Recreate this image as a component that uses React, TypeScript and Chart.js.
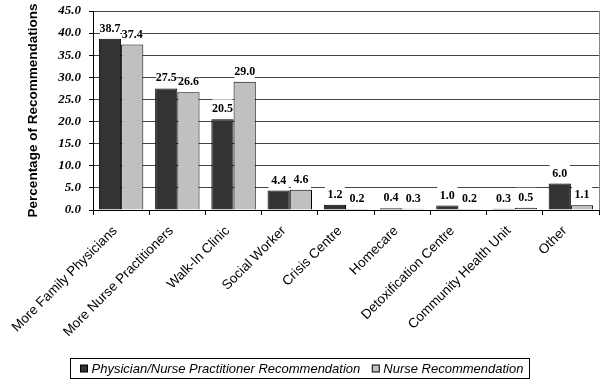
import React, { useEffect, useRef } from "react";
import { Chart, registerables } from "chart.js";

Chart.register(...registerables);

const categories = [
  "More Family Physicians",
  "More Nurse Practitioners",
  "Walk-In Clinic",
  "Social Worker",
  "Crisis Centre",
  "Homecare",
  "Detoxification Centre",
  "Community Health Unit",
  "Other",
];
const physicianValues = [38.7, 27.5, 20.5, 4.4, 1.2, 0.4, 1.0, 0.3, 6.0];
const nurseValues = [37.4, 26.6, 29.0, 4.6, 0.2, 0.3, 0.2, 0.5, 1.1];
const seriesLabels = ["Physician/Nurse Practitioner Recommendation", "Nurse Recommendation"];
const seriesColors = ["#333333", "#c0c0c0"];
const yAxisTitle = "Percentage of Recommendations";
const yMin = 0;
const yMax = 45;
const yStep = 5;

const valueLabelPlugin = {
  id: "valueLabels",
  afterDatasetsDraw(chart: any) {
    const ctx = chart.ctx;
    ctx.save();
    chart.data.datasets.forEach((ds: any, di: number) => {
      const meta = chart.getDatasetMeta(di);
      meta.data.forEach((el: any, i: number) => {
        const w = el.width;
        const top = Math.min(el.y, el.base);
        ctx.fillStyle = "#ffffff";
        ctx.fillRect(el.x - w / 2 + 1, top - 20, w - 2, 19);
        ctx.fillStyle = "#000000";
        ctx.font = 'bold 12px "Liberation Serif"';
        ctx.textAlign = "center";
        ctx.textBaseline = "middle";
        ctx.fillText(Number(ds.data[i]).toFixed(1), el.x, top - 10);
      });
    });
    ctx.restore();
  },
};

const frameLegendPlugin = {
  id: "frameLegend",
  afterDraw(chart: any) {
    const ctx = chart.ctx;
    const area = chart.chartArea;
    ctx.save();
    // right border of plot area
    ctx.strokeStyle = "#888888";
    ctx.lineWidth = 1;
    ctx.beginPath();
    ctx.moveTo(Math.round(area.right) + 0.5, area.top);
    ctx.lineTo(Math.round(area.right) + 0.5, area.bottom);
    ctx.stroke();

    // legend box
    ctx.font = 'italic 13px "Liberation Sans"';
    const labels = chart.data.datasets.map((d: any) => d.label);
    const widths = labels.map((t: string) => ctx.measureText(t).width);
    const sq = 7;
    const gap = 4;
    const itemGap = 12;
    const padL = 10;
    const padR = 6;
    const content = widths.reduce((a: number, w: number) => a + sq + gap + w, 0) + itemGap * (labels.length - 1);
    const boxW = Math.round(padL + content + padR);
    const boxH = 20;
    const cx = 299;
    const boxX = Math.round(cx - boxW / 2) + 0.5;
    const boxY = 358.5;
    ctx.fillStyle = "#ffffff";
    ctx.fillRect(boxX, boxY, boxW, boxH);
    ctx.strokeStyle = "#000000";
    ctx.strokeRect(boxX, boxY, boxW, boxH);
    let x = boxX + padL;
    const midY = boxY + boxH / 2;
    labels.forEach((t: string, i: number) => {
      const ds = chart.data.datasets[i];
      ctx.fillStyle = ds.backgroundColor;
      ctx.fillRect(x, midY - sq / 2, sq, sq);
      ctx.strokeStyle = "#000000";
      ctx.strokeRect(x, midY - sq / 2, sq, sq);
      x += sq + gap;
      ctx.fillStyle = "#000000";
      ctx.textAlign = "left";
      ctx.textBaseline = "middle";
      ctx.fillText(t, x, midY + 1);
      x += widths[i] + itemGap;
    });
    ctx.restore();
  },
};

export default function App() {
  const canvasRef = useRef<HTMLCanvasElement | null>(null);

  useEffect(() => {
    if (!canvasRef.current) return;
    const chart = new Chart(canvasRef.current, {
      type: "bar",
      data: {
        labels: categories,
        datasets: [
          {
            label: seriesLabels[0],
            data: physicianValues,
            backgroundColor: seriesColors[0],
            borderColor: "#000000",
            borderWidth: 1,
          },
          {
            label: seriesLabels[1],
            data: nurseValues,
            backgroundColor: seriesColors[1],
            borderColor: "#000000",
            borderWidth: 1,
          },
        ],
      },
      options: {
        responsive: false,
        maintainAspectRatio: false,
        animation: false,
        datasets: { bar: { categoryPercentage: 0.79, barPercentage: 1.0 } },
        layout: { padding: { left: 0, top: 11, right: 5, bottom: 0 } },
        plugins: {
          legend: { display: false },
          tooltip: { enabled: false },
        },
        scales: {
          x: {
            offset: true,
            grid: {
              display: true,
              offset: true,
              drawOnChartArea: false,
              drawTicks: true,
              tickLength: 5,
              color: "#000000",
              tickColor: "#000000",
            },
            border: { display: true, color: "#000000", width: 1 },
            ticks: {
              autoSkip: false,
              maxRotation: 45,
              minRotation: 45,
              padding: 8,
              labelOffset: -6,
              color: "#000000",
              font: { family: '"Liberation Sans", Arial, sans-serif', size: 13.5 },
            },
            afterFit(scale: any) {
              scale.height = 176;
              scale.paddingLeft = 0;
              scale.paddingRight = 0;
            },
          },
          y: {
            min: yMin,
            max: yMax,
            ticks: {
              stepSize: yStep,
              padding: 8,
              color: "#000000",
              font: { family: '"Liberation Serif", serif', size: 13, weight: "bold", style: "italic" },
              callback: (v: any) => Number(v).toFixed(1),
            },
            grid: {
              color: "#444444",
              tickColor: "#000000",
              tickLength: 4,
              lineWidth: 1,
            },
            border: { display: true, color: "#000000", width: 1 },
            title: {
              display: true,
              text: yAxisTitle,
              color: "#000000",
              font: { family: '"Liberation Sans", Arial, sans-serif', size: 13.5, weight: "bold" },
              padding: { top: 25, bottom: 0 },
            },
            afterFit(scale: any) {
              scale.width = 93;
              scale.paddingTop = 0;
              scale.paddingBottom = 0;
            },
          },
        },
      },
      plugins: [valueLabelPlugin, frameLegendPlugin],
    });
    return () => chart.destroy();
  }, []);

  return (
    <div style={{ position: "absolute", left: 0, top: 0, width: 604, height: 386, background: "#ffffff" }}>
      <canvas ref={canvasRef} width={604} height={386} style={{ display: "block" }} />
    </div>
  );
}
